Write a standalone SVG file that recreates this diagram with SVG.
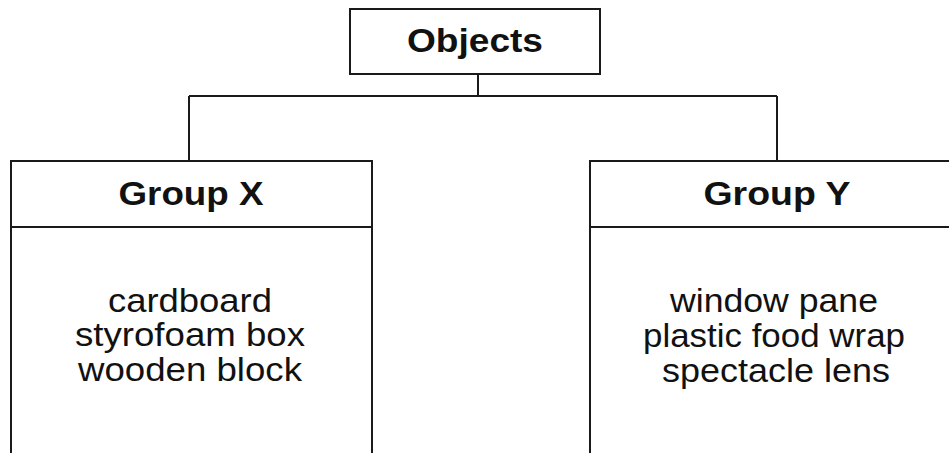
<svg xmlns="http://www.w3.org/2000/svg" width="949" height="453" viewBox="0 0 949 453">
<style>
.box{fill:#fff;stroke:#1a1a1a;stroke-width:2}
.ln{fill:none;stroke:#1a1a1a;stroke-width:2}
.hd{font-family:"Liberation Sans",Arial,sans-serif;font-weight:bold;font-size:34px;fill:#111;text-anchor:middle}
.bd{font-family:"Liberation Sans",Arial,sans-serif;font-size:33px;fill:#111;text-anchor:middle}
</style>
<rect width="949" height="453" fill="#fff"/>
<g id="connectors">
<path class="ln" d="M478 74 V96 M189 96 H777 M189 96 V161 M777 96 V161"/>
</g>
<g id="objects">
<rect class="box" x="350" y="9" width="250" height="65"/>
<text class="hd" x="475" y="52" textLength="136" lengthAdjust="spacingAndGlyphs">Objects</text>
</g>
<g id="groupX">
<rect class="box" x="11" y="161" width="361" height="310"/>
<line class="ln" x1="11" y1="227" x2="372" y2="227"/>
<text class="hd" x="191" y="205" textLength="145" lengthAdjust="spacingAndGlyphs">Group X</text>
<text class="bd" x="190" y="312" textLength="164" lengthAdjust="spacingAndGlyphs">cardboard</text>
<text class="bd" x="190" y="346" textLength="230" lengthAdjust="spacingAndGlyphs">styrofoam box</text>
<text class="bd" x="190" y="381" textLength="224" lengthAdjust="spacingAndGlyphs">wooden block</text>
</g>
<g id="groupY">
<rect class="box" x="590" y="161" width="380" height="310"/>
<line class="ln" x1="590" y1="227" x2="970" y2="227"/>
<text class="hd" x="777" y="205" textLength="147" lengthAdjust="spacingAndGlyphs">Group Y</text>
<text class="bd" x="774" y="312" textLength="208" lengthAdjust="spacingAndGlyphs">window pane</text>
<text class="bd" x="774" y="347" textLength="262" lengthAdjust="spacingAndGlyphs">plastic food wrap</text>
<text class="bd" x="776" y="382" textLength="228" lengthAdjust="spacingAndGlyphs">spectacle lens</text>
</g>
</svg>
